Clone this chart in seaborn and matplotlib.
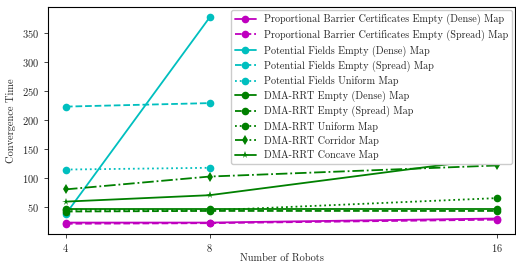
import numpy as np
import pandas as pd
import matplotlib.pyplot as plt
import seaborn as sns

robots = [4, 8, 16]
nan = np.nan

pbc_dense = [24, 24, 31]
pbc_spread = [22, 23, 29]
pf_dense = [39, 376, nan]
pf_spread = [223, 229, nan]
pf_uniform = [115, 118, nan]
dma_dense = [48, 48, 48]
dma_spread = [43, 44, 44]
dma_uniform = [46, 45, 66]
dma_corridor = [81, 103, 122]
dma_concave = [60, 71, 135]

labels = [
    'Proportional Barrier Certificates Empty (Dense) Map',
    'Proportional Barrier Certificates Empty (Spread) Map',
    'Potential Fields Empty (Dense) Map',
    'Potential Fields Empty (Spread) Map',
    'Potential Fields Uniform Map',
    'DMA-RRT Empty (Dense) Map',
    'DMA-RRT Empty (Spread) Map',
    'DMA-RRT Uniform Map',
    'DMA-RRT Corridor Map',
    'DMA-RRT Concave Map',
]
series = [pbc_dense, pbc_spread, pf_dense, pf_spread, pf_uniform,
          dma_dense, dma_spread, dma_uniform, dma_corridor, dma_concave]

# style per series: colour, line style, marker
styles = [
    ('m', '-', 'o'), ('m', '--', 'o'),
    ('c', '-', 'o'), ('c', '--', 'o'), ('c', ':', 'o'),
    ('g', '-', 'o'), ('g', '--', 'o'), ('g', ':', 'o'),
    ('g', '-.', 'd'), ('g', '-', '*'),
]

sns.set_style('ticks')
plt.rcParams['font.family'] = 'serif'
plt.rcParams['font.serif'] = ['cmr10']
plt.rcParams['mathtext.fontset'] = 'cm'
plt.rcParams['axes.formatter.use_mathtext'] = True

fig, ax = plt.subplots(figsize=(5.16, 2.63), dpi=100)
fig.subplots_adjust(left=0.093, right=0.998, bottom=0.11, top=0.973)

for vals, lab, (col, ls, mk) in zip(series, labels, styles):
    df = pd.DataFrame({'Robots': robots, 'Time': vals}).dropna()
    sns.lineplot(data=df, x='Robots', y='Time', ax=ax, color=col, linestyle=ls,
                 marker=mk, markersize=5.5, linewidth=1.3, markeredgewidth=0,
                 label=lab)

ax.set_xticks(robots)
ax.set_xlim(3.5, 16.5)
ax.set_xlabel('Number of Robots', fontsize=7.5, labelpad=0)
ax.set_ylabel('Convergence Time', fontsize=7.5, labelpad=4)
ax.tick_params(labelsize=7.5, length=3, width=0.6)
ax.tick_params(axis='x', pad=2.5)
for s in ax.spines.values():
    s.set_linewidth(0.8)
    s.set_color('black')

ax.legend(loc='upper right', fontsize=7.3, labelspacing=0.42, handlelength=2,
          borderaxespad=0.3, framealpha=1)

fig.savefig('out.png', dpi=100)
